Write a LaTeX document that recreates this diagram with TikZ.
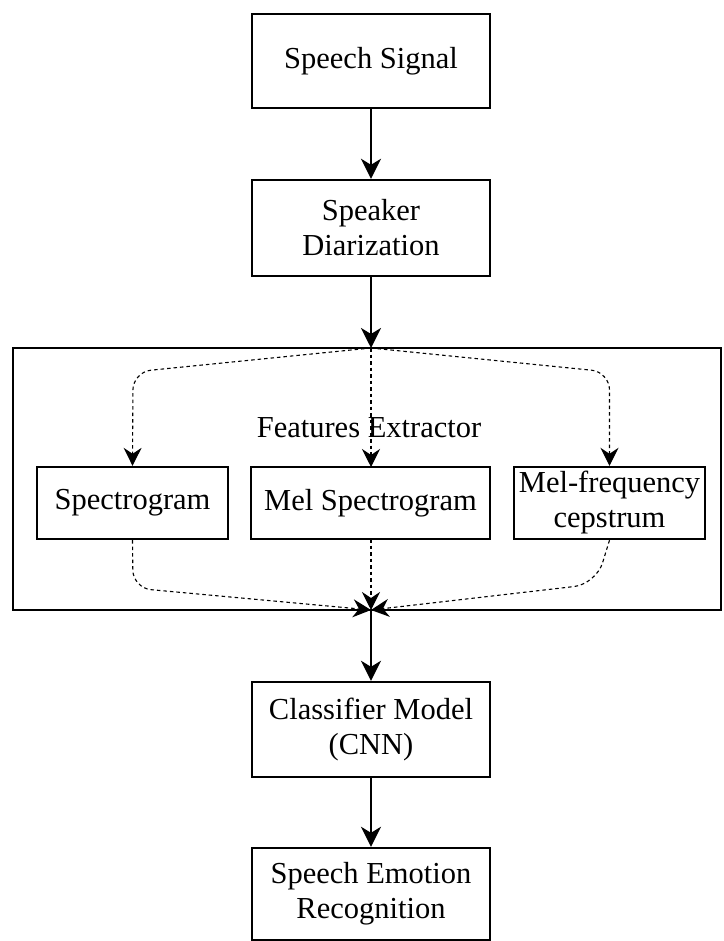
\documentclass[tikz,border=0pt]{standalone}
\usepackage{fontspec}
\setmainfont{Liberation Serif}
\usetikzlibrary{arrows.meta}
\begin{document}
\begin{tikzpicture}[x=1pt,y=-1pt,
  font=\fontsize{30.5}{35}\selectfont,
  box/.style={draw, line width=2.4, align=center, inner sep=0pt},
  arr/.style={line width=2.8, -{Stealth[length=20pt, width=20pt, inset=6pt]}},
  darr/.style={line width=1.1, dash pattern=on 3.5pt off 3pt, -{Stealth[length=18pt, width=18pt, inset=6pt]}}]
\useasboundingbox (0,0) rectangle (723,941);
\node[box, minimum width=238, minimum height=94] (ss) at (371,61) {Speech Signal};
\node[box, minimum width=238, minimum height=96] (sd) at (371,228) {Speaker\\Diarization};
\node[draw, line width=2.4, minimum width=708, minimum height=262, inner sep=0pt] (fe) at (367,479) {};
\node (fel) at (369,428) {Features Extractor};
\node[box, minimum width=191, minimum height=72] (spec) at (132.5,503) {Spectrogram};
\node[box, minimum width=239, minimum height=72] (mel) at (370.5,503) {Mel Spectrogram};
\node[box, minimum width=191, minimum height=72] (mfc) at (609.5,503) {Mel-frequency\\cepstrum};
\node[box, minimum width=238, minimum height=95] (cm) at (371,729.5) {Classifier Model\\(CNN)};
\node[box, minimum width=238, minimum height=92] (ser) at (371,894) {Speech Emotion\\Recognition};
\coordinate (split) at (371,348);
\coordinate (merge) at (371,610);
\draw[arr] (ss.south) -- (sd.north);
\draw[arr] (sd.south) -- (split);
\draw[darr] (split) -- (371,467);
\draw[darr, rounded corners=18] (split) -- (133,372) -- (spec.north);
\draw[darr, rounded corners=18] (split) -- (609.5,372) -- (mfc.north);
\draw[darr] (371,539) -- (merge);
\draw[darr, rounded corners=18] (spec.south) -- (133,588) -- (merge);
\draw[darr, rounded corners=22] (mfc.south) -- (596,584) -- (merge);
\draw[arr] (merge) -- (cm.north);
\draw[arr] (cm.south) -- (ser.north);
\end{tikzpicture}
\end{document}
